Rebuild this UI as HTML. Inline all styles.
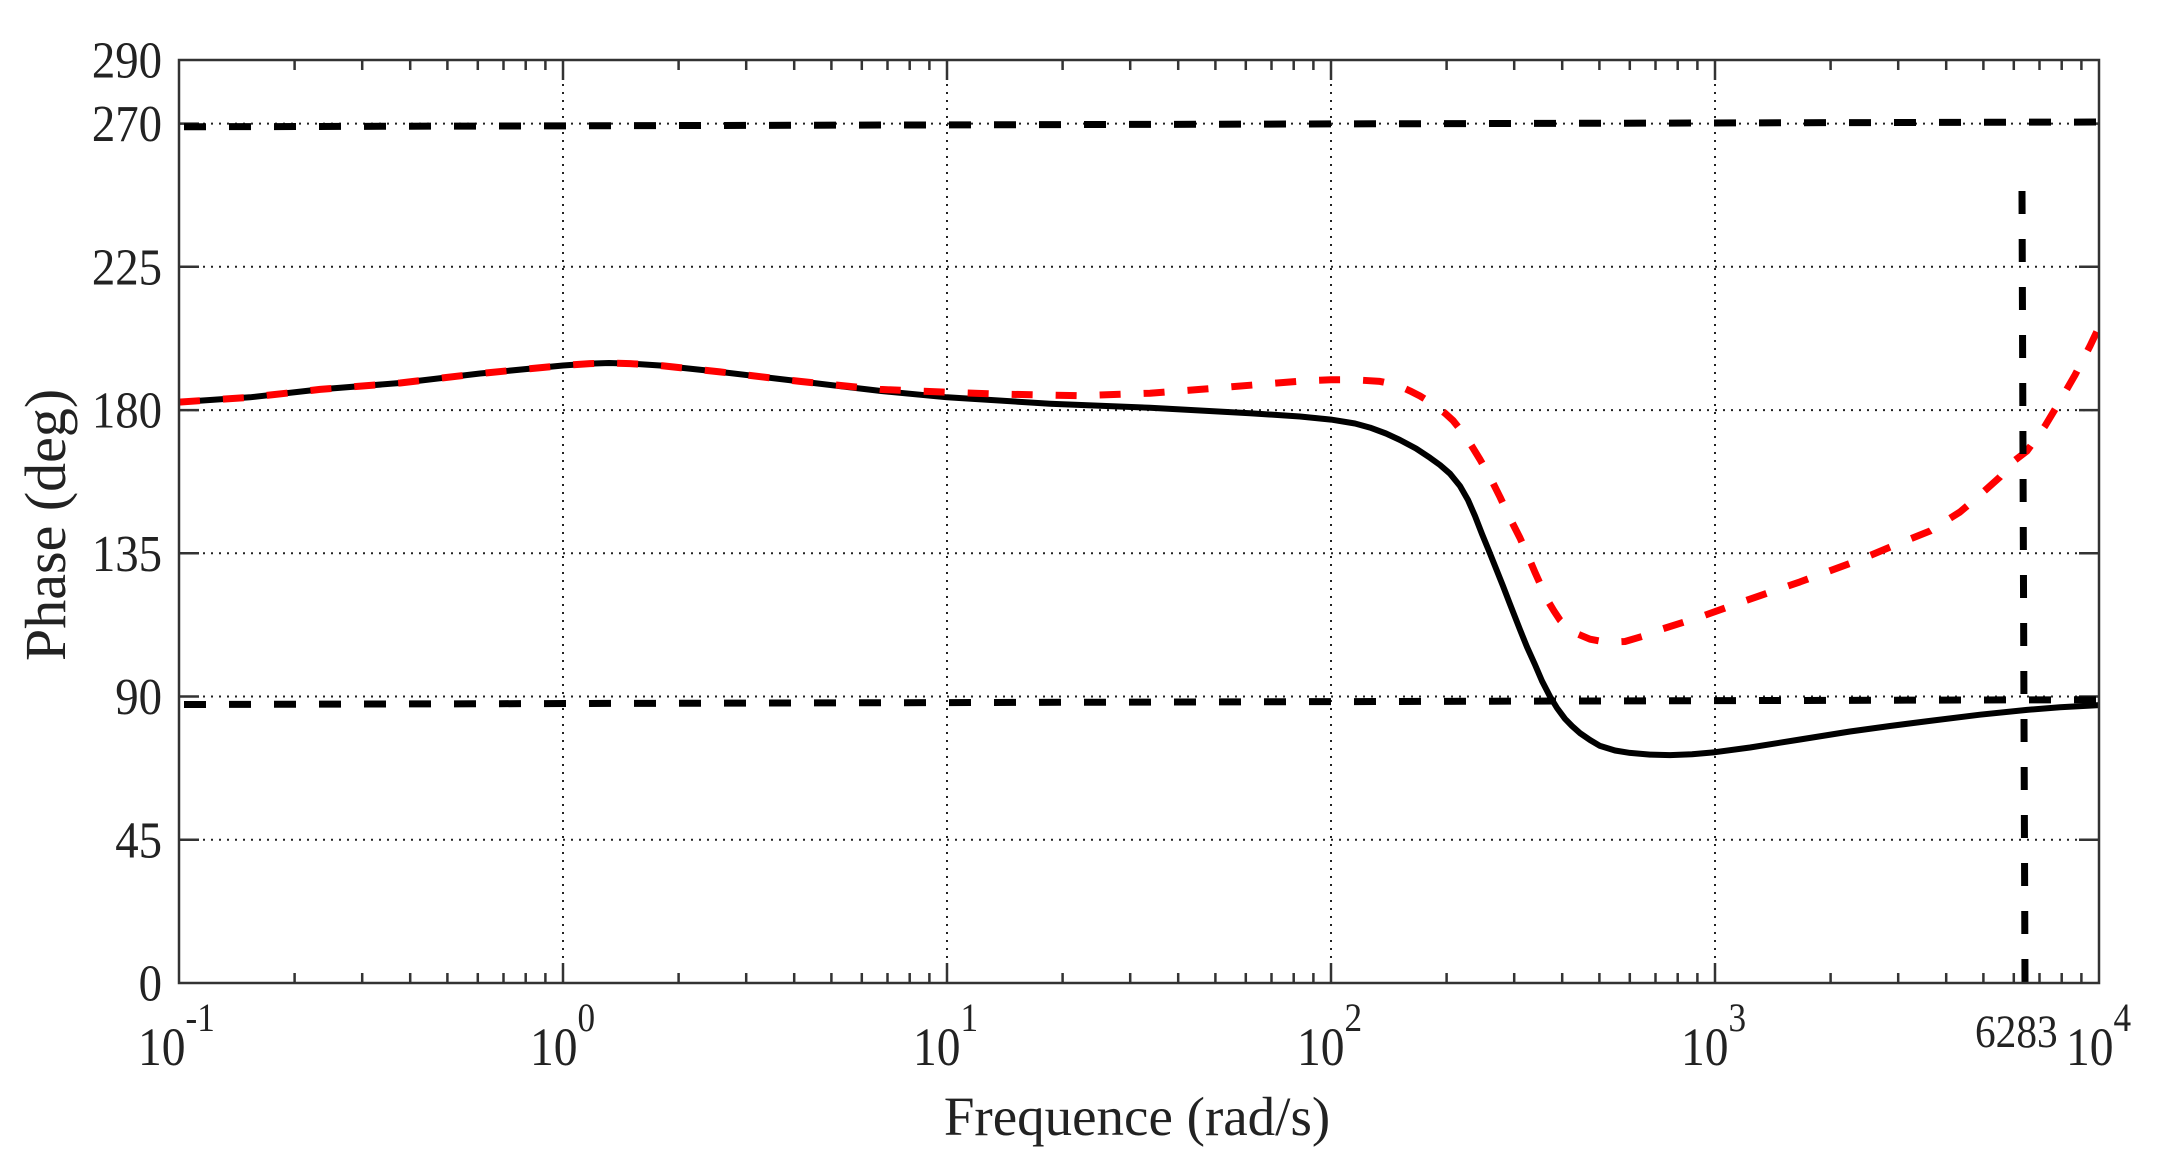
<!DOCTYPE html>
<html><head><meta charset="utf-8"><style>
html,body{margin:0;padding:0;background:#fff;}
svg{display:block;}
text{font-family:"Liberation Serif",serif;fill:#222;}
</style></head><body>
<svg width="2172" height="1176" viewBox="0 0 2172 1176" xmlns="http://www.w3.org/2000/svg">
<rect width="2172" height="1176" fill="#fff"/>
<g stroke="#222" stroke-width="2" stroke-dasharray="2 6" fill="none">
<line x1="563" y1="60" x2="563" y2="983"/>
<line x1="947" y1="60" x2="947" y2="983"/>
<line x1="1331" y1="60" x2="1331" y2="983"/>
<line x1="1715" y1="60" x2="1715" y2="983"/>
<line x1="179" y1="839.8" x2="2099" y2="839.8"/>
<line x1="179" y1="696.5" x2="2099" y2="696.5"/>
<line x1="179" y1="553.3" x2="2099" y2="553.3"/>
<line x1="179" y1="410.1" x2="2099" y2="410.1"/>
<line x1="179" y1="266.8" x2="2099" y2="266.8"/>
<line x1="179" y1="123.6" x2="2099" y2="123.6"/>
</g>
<g stroke="#333" stroke-width="2.5">
<path d="M179 839.8h20M179 696.5h20M179 553.3h20M179 410.1h20M179 266.8h20M179 123.6h20
M2099 839.8h-20M2099 696.5h-20M2099 553.3h-20M2099 410.1h-20M2099 266.8h-20M2099 123.6h-20
M563 983v-20M947 983v-20M1331 983v-20M1715 983v-20
M563 60v20M947 60v20M1331 60v20M1715 60v20"/>
<path d="M294.6 983v-10M362.2 983v-10M410.2 983v-10M447.4 983v-10M477.8 983v-10M503.5 983v-10M525.7 983v-10M545.4 983v-10
M678.6 983v-10M746.2 983v-10M794.2 983v-10M831.4 983v-10M861.8 983v-10M887.5 983v-10M909.7 983v-10M929.4 983v-10
M1062.6 983v-10M1130.2 983v-10M1178.2 983v-10M1215.4 983v-10M1245.8 983v-10M1271.5 983v-10M1293.7 983v-10M1313.4 983v-10
M1446.6 983v-10M1514.2 983v-10M1562.2 983v-10M1599.4 983v-10M1629.8 983v-10M1655.5 983v-10M1677.7 983v-10M1697.4 983v-10
M1830.6 983v-10M1898.2 983v-10M1946.2 983v-10M1983.4 983v-10M2013.8 983v-10M2039.5 983v-10M2061.7 983v-10M2081.4 983v-10
M294.6 60v10M362.2 60v10M410.2 60v10M447.4 60v10M477.8 60v10M503.5 60v10M525.7 60v10M545.4 60v10
M678.6 60v10M746.2 60v10M794.2 60v10M831.4 60v10M861.8 60v10M887.5 60v10M909.7 60v10M929.4 60v10
M1062.6 60v10M1130.2 60v10M1178.2 60v10M1215.4 60v10M1245.8 60v10M1271.5 60v10M1293.7 60v10M1313.4 60v10
M1446.6 60v10M1514.2 60v10M1562.2 60v10M1599.4 60v10M1629.8 60v10M1655.5 60v10M1677.7 60v10M1697.4 60v10
M1830.6 60v10M1898.2 60v10M1946.2 60v10M1983.4 60v10M2013.8 60v10M2039.5 60v10M2061.7 60v10M2081.4 60v10"/>
</g>
<g stroke="#000" stroke-width="7" stroke-dasharray="22 23" fill="none">
<line x1="184" y1="126.8" x2="2099" y2="122"/>
<line x1="184" y1="704.5" x2="2099" y2="699.7"/>
</g>
<polyline fill="none" stroke="#000" stroke-width="6" stroke-linejoin="round" points="179,402.1 250,397.3 320,389.4 400,383.0 480,373.5 563,365.5 590,363.6 609,363.0 630,363.6 660,365.5 720,371.9 800,381.4 880,390.9 947,397.3 1050,403.7 1150,407.8 1250,413.2 1300,416.5 1331,419.6 1355,423.5 1370,427.6 1386,433.5 1400,440.0 1416,448.5 1430,457.8 1440,465 1450,473.7 1460,486 1468,500 1475,516 1482,534 1489,551 1495,566.0 1503,586 1510,604.2 1520,629.7 1527,647 1535,664.7 1542,681 1550,696.5 1557,708 1565,718.8 1572,726 1580,733.1 1590,740 1600,745.9 1615,750.5 1630,752.9 1650,754.6 1670,755.1 1692,754.2 1715,752.2 1750,747.5 1800,739.5 1850,731.5 1890,726 1929,721.0 1980,714.7 2027,709.9 2060,707.3 2099,705.1"/>
<polyline fill="none" stroke="#f00" stroke-width="7" stroke-dasharray="21 23" stroke-linejoin="round" points="179,402.1 250,397.3 320,389.4 400,383.0 480,373.5 563,365.5 590,363.6 609,363.0 630,363.6 660,365.5 720,371.9 800,381.4 880,389.4 947,392.2 1000,394.1 1078,395.7 1150,393.2 1200,389.4 1277,383.0 1305,380.8 1331,379.8 1355,379.8 1380,381.4 1397,385 1410,390.9 1420,396 1430,402.1 1445,413.2 1453,420.5 1460,429.2 1470,443.2 1480,459.5 1490,476.9 1500,497 1510,518.3 1520,538 1528,556 1535,572.4 1542,588 1548,601.0 1554,611 1560,620.1 1567,627 1575,632.9 1590,639.2 1607,642.4 1625,641.5 1642,636.5 1660,629.7 1700,617.0 1740,602.6 1800,581.9 1860,559.7 1900,543 1930,531 1960,512 1977,497.6 2000,477 2010,464 2027,451 2045,426 2060,401 2075,375 2090,346 2099,327"/>
<line x1="2022" y1="191" x2="2025" y2="983" stroke="#000" stroke-width="7" stroke-dasharray="23 25"/>
<rect x="179" y="60" width="1920" height="923" fill="none" stroke="#333" stroke-width="2.5"/>
<g font-size="52" text-anchor="end">
<text transform="translate(162,1000.5) scale(0.9,1)">0</text>
<text transform="translate(162,857.3) scale(0.9,1)">45</text>
<text transform="translate(162,714) scale(0.9,1)">90</text>
<text transform="translate(162,570.8) scale(0.9,1)">135</text>
<text transform="translate(162,427.6) scale(0.9,1)">180</text>
<text transform="translate(162,284.3) scale(0.9,1)">225</text>
<text transform="translate(162,141.1) scale(0.9,1)">270</text>
<text transform="translate(162,77.5) scale(0.9,1)">290</text>
</g>
<g font-size="54">
<text transform="translate(138,1065) scale(0.88,1)">10<tspan font-size="40" dy="-34">-1</tspan></text>
<text transform="translate(530,1065) scale(0.88,1)">10<tspan font-size="40" dy="-34">0</tspan></text>
<text transform="translate(913,1065) scale(0.88,1)">10<tspan font-size="40" dy="-34">1</tspan></text>
<text transform="translate(1297,1065) scale(0.88,1)">10<tspan font-size="40" dy="-34">2</tspan></text>
<text transform="translate(1681,1065) scale(0.88,1)">10<tspan font-size="40" dy="-34">3</tspan></text>
<text transform="translate(2066,1065) scale(0.88,1)">10<tspan font-size="40" dy="-34">4</tspan></text>
<text transform="translate(1975,1047) scale(0.88,1)" font-size="47">6283</text>
</g>
<text x="1137" y="1135" font-size="55" text-anchor="middle">Frequence (rad/s)</text>
<text transform="translate(65,661) rotate(-90)" font-size="58">Phase (deg)</text>
</svg>
</body></html>
